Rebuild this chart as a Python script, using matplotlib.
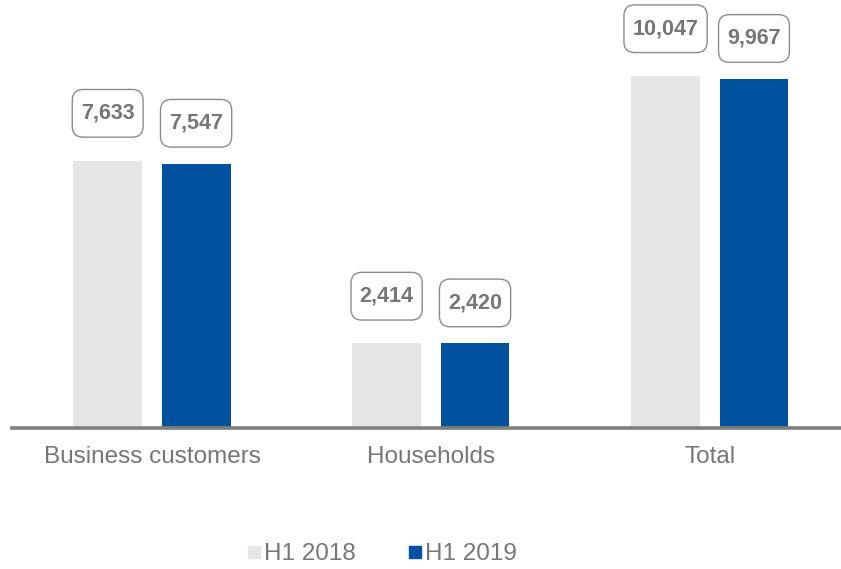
import numpy as np
import matplotlib.pyplot as plt
from matplotlib.lines import Line2D
from matplotlib.patches import BoxStyle

plt.rcParams['font.family'] = ['Liberation Sans', 'DejaVu Sans']

# data
categories = ['Business customers', 'Households', 'Total']
series_names = ['H1 2018', 'H1 2019']
h1_2018 = [7633, 2414, 10047]
h1_2019 = [7547, 2420, 9967]

colors = ['#e6e6e6', '#00519e']
text_grey = '#767676'


# rounded box with separate horizontal / vertical padding
def label_box(x0, y0, width, height, mutation_size):
    px = 0.40 * mutation_size
    py = 0.62 * mutation_size
    return BoxStyle.Round(pad=0, rounding_size=0.5 * mutation_size)(
        x0 - px, y0 - py, width + 2 * px, height + 2 * py, 1.0)


fig = plt.figure(figsize=(8.41, 5.69), dpi=100)
ax = fig.add_axes([12 / 841, 1 - 428 / 569, 1 - 12 / 841, 428 / 569])

x = np.arange(len(categories))
width = 0.247
offsets = [-0.159, 0.158]
label_off = [34, 29]   # points above bar top

for vals, off, col, lo in zip([h1_2018, h1_2019], offsets, colors, label_off):
    bars = ax.bar(x + off, vals, width=width, color=col, zorder=2)
    for b, v in zip(bars, vals):
        ax.annotate(f'{v:,}', (b.get_x() + b.get_width() / 2, v),
                    xytext=(0, lo), textcoords='offset points',
                    ha='center', va='center', fontsize=15.5, fontweight='bold',
                    color=text_grey,
                    bbox=dict(boxstyle=label_box,
                              fc='white', ec='#8c8c8c', lw=1.0))

ax.set_xlim(-0.502, 2.47)
ax.set_ylim(0, 428 / 0.03504)

for s in ['top', 'right', 'left']:
    ax.spines[s].set_visible(False)
ax.spines['bottom'].set_color('#7f7f7f')
ax.spines['bottom'].set_linewidth(2.6)
ax.set_yticks([])
ax.set_xticks(x)
ax.set_xticklabels(categories, fontsize=17.5, color=text_grey)
ax.tick_params(axis='x', length=0, pad=13)

handles = [Line2D([], [], marker='s', linestyle='none', markersize=9,
                  markerfacecolor=c, markeredgecolor=c, label=n)
           for c, n in zip(colors, series_names)]
fig.legend(handles=handles, loc='center', bbox_to_anchor=(0.455, 1 - 554 / 569),
           ncol=2, frameon=False, fontsize=17.5, labelcolor=text_grey,
           handlelength=0.5, handletextpad=0.15, columnspacing=2.2)

fig.savefig('out.png', dpi=100)
